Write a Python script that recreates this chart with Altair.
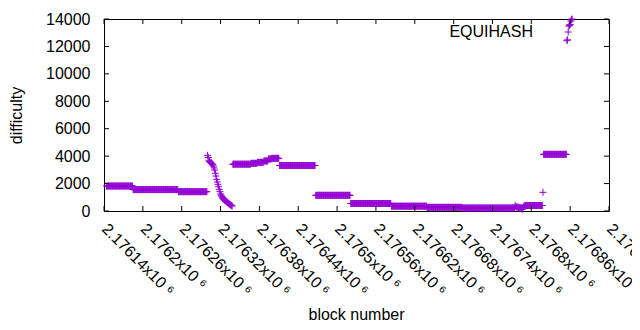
import altair as alt
import pandas as pd

# constant-difficulty runs (first block, last block, difficulty)
run_start = [2176144, 2176185, 2176255, 2176339, 2176367, 2176377, 2176387, 2176394, 2176399,
             2176411, 2176467, 2176521, 2176584, 2176639, 2176694, 2176790, 2176819]
run_end = [2176184, 2176254, 2176299, 2176366, 2176376, 2176386, 2176393, 2176398, 2176410,
           2176466, 2176520, 2176583, 2176638, 2176693, 2176774, 2176817, 2176854]
run_value = [1820, 1560, 1410, 3413, 3476, 3548, 3646, 3792, 3840,
             3318, 1143, 547, 352, 267, 219, 401, 4132]

# individual blocks
pt_block = [2176300, 2176301, 2176302, 2176303, 2176304, 2176305, 2176306, 2176307, 2176308, 2176309,
            2176310, 2176311, 2176312, 2176313, 2176314, 2176315, 2176316, 2176317, 2176318, 2176319,
            2176320, 2176321, 2176322, 2176323, 2176324, 2176325, 2176326, 2176327, 2176328, 2176329,
            2176330, 2176331, 2176332, 2176333, 2176334, 2176335, 2176336, 2176337, 2176338,
            2176775, 2176776, 2176777, 2176778, 2176779, 2176780, 2176781, 2176782, 2176783, 2176784,
            2176785, 2176786, 2176787, 2176788, 2176789,
            2176818,
            2176855, 2176856, 2176857, 2176858, 2176859, 2176860, 2176861, 2176862, 2176863]
pt_value = [4060, 3900, 3700, 3600, 3560, 3520, 3480, 3430, 3380, 3280,
            3140, 2990, 2750, 2550, 2310, 2115, 1945, 1770, 1580, 1410,
            1240, 1150, 1045, 960, 900, 850, 800, 760, 730, 690,
            650, 610, 570, 530, 490, 460, 430, 390, 370,
            415, 300, 290, 290, 280, 230, 230, 230, 230, 230,
            230, 120, 260, 300, 350,
            1361,
            12420, 12480, 13050, 13480, 13540, 13600, 13850, 13950, 14000]

series_name = ["EQUIHASH"]
x_ticks = [2176140, 2176200, 2176260, 2176320, 2176380, 2176440, 2176500,
           2176560, 2176620, 2176680, 2176740, 2176800, 2176860, 2176920]
y_ticks = [0, 2000, 4000, 6000, 8000, 10000, 12000, 14000]

blocks, vals = [], []
for s, e, v in zip(run_start, run_end, run_value):
    for b in range(s, e + 1):
        blocks.append(b)
        vals.append(v)
blocks += pt_block
vals += pt_value
df = pd.DataFrame({"block": blocks, "difficulty": vals})

FONT = "Liberation Sans"
COLOR = "#9400d3"
PLUS = "M-1,0L1,0M0,-1L0,1"

xscale = alt.Scale(domain=[x_ticks[0], x_ticks[-1]], nice=False, zero=False)
yscale = alt.Scale(domain=[y_ticks[0], y_ticks[-1]], nice=False)

xaxis = alt.Axis(
    values=x_ticks, labelExpr="format(datum.value / 1000000, '.6~g') + 'x10 ⁶'",
    domain=False, ticks=False, tickSize=0, grid=False,
    labelAngle=45, labelAlign="left", labelBaseline="middle", labelPadding=15,
    labelFont=FONT, labelFontSize=16, labelColor="black", labelOverlap=False, labelFlush=False,
    title="block number", titleFont=FONT, titleFontSize=16, titleFontWeight="normal",
    titleColor="black", titleX=252, titleY=103, titleAlign="center", titleBaseline="middle",
)
yaxis = alt.Axis(
    values=y_ticks, format="d", domain=False, ticks=False, tickSize=0, grid=False,
    labelPadding=14, labelFont=FONT, labelFontSize=16, labelColor="black",
    labelBaseline="middle",
    title="difficulty", titleFont=FONT, titleFontSize=16, titleFontWeight="normal",
    titleColor="black", titleX=-88, titleY=96, titleAngle=-90, titleAlign="center",
    titleBaseline="middle",
)

points = alt.Chart(df).mark_point(
    shape=PLUS, size=49, filled=False, stroke=COLOR, strokeWidth=1, opacity=1
).encode(
    x=alt.X("block:Q", scale=xscale, axis=xaxis),
    y=alt.Y("difficulty:Q", scale=yscale, axis=yaxis),
)

ydf = pd.DataFrame({"difficulty": y_ticks})
xdf = pd.DataFrame({"block": x_ticks})
tick_style = dict(color="black", strokeWidth=1)

left_ticks = alt.Chart(ydf).mark_rule(**tick_style).encode(
    y=alt.Y("difficulty:Q", scale=yscale, axis=yaxis), x=alt.value(0), x2=alt.value(5))
right_ticks = alt.Chart(ydf).mark_rule(**tick_style).encode(
    y=alt.Y("difficulty:Q", scale=yscale, axis=yaxis), x=alt.value(500), x2=alt.value(505))
bottom_ticks = alt.Chart(xdf).mark_rule(**tick_style).encode(
    x=alt.X("block:Q", scale=xscale, axis=xaxis), y=alt.value(192), y2=alt.value(187))
top_ticks = alt.Chart(xdf).mark_rule(**tick_style).encode(
    x=alt.X("block:Q", scale=xscale, axis=xaxis), y=alt.value(0), y2=alt.value(5))

legend = alt.Chart(pd.DataFrame({"t": series_name})).mark_text(
    align="right", baseline="middle", font=FONT, fontSize=16, color="black"
).encode(text="t:N", x=alt.value(429), y=alt.value(13))

chart = alt.layer(
    points, left_ticks, right_ticks, bottom_ticks, top_ticks, legend
).properties(
    width=505, height=192,
    padding={"left": 96, "top": 11, "right": 23, "bottom": 111},
    autosize=alt.AutoSizeParams(type="none"),
    background="white",
).configure_view(stroke="black", strokeWidth=1)

chart.save("out.html", embed_options={"renderer": "svg", "actions": False})
